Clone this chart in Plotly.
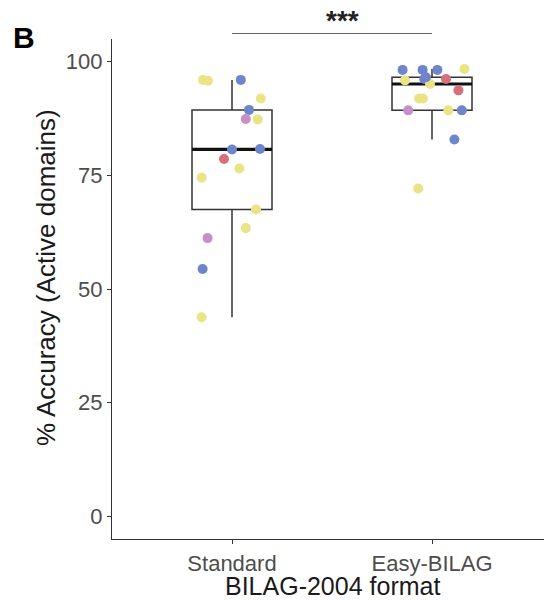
import plotly.graph_objects as go
import numpy as np

categories = ["Standard", "Easy-BILAG"]

standard_values = [96.0, 95.8, 96.0, 91.9, 89.4, 87.4, 87.3, 80.7, 80.8, 78.6,
                   76.5, 74.5, 67.5, 63.4, 61.2, 54.4, 43.8]
standard_groups = ["Y", "Y", "B", "Y", "B", "P", "Y", "B", "B", "R",
                   "Y", "Y", "Y", "Y", "P", "B", "Y"]
standard_jitter = [-0.145, -0.12, 0.044, 0.144, 0.085, 0.069, 0.129, 0.0, 0.14, -0.04,
                   0.037, -0.152, 0.12, 0.069, -0.122, -0.147, -0.152]

easy_values = [98.2, 95.9, 98.2, 96.2, 98.2, 96.2, 98.4, 93.7, 91.9, 91.9,
               89.3, 89.3, 89.3, 82.9, 72.1, 95.1, 96.6]
easy_groups = ["B", "Y", "B", "B", "B", "R", "Y", "R", "Y", "Y",
               "P", "Y", "B", "B", "Y", "Y", "B"]
easy_jitter = [-0.147, -0.135, -0.047, -0.039, 0.027, 0.07, 0.162, 0.132, -0.065, -0.045,
               -0.119, 0.082, 0.149, 0.112, -0.069, -0.01, -0.03]

y_ticks = [0, 25, 50, 75, 100]
significance = "***"

group_colors = {"Y": "#EAE486", "B": "#6E86C9", "P": "#C690C7", "R": "#D7707D"}

series = [
    (standard_values, standard_groups, standard_jitter),
    (easy_values, easy_groups, easy_jitter),
]

BOX_W = 0.4
LINE = "#333333"
FONT = "Liberation Sans, Arial, sans-serif"

fig = go.Figure()

for i, (vals, grps, jit) in enumerate(series):
    fig.add_trace(go.Box(
        y=vals, x0=i, width=BOX_W, boxpoints="outliers",
        marker=dict(opacity=0, size=1),
        line=dict(color=LINE, width=1.5), fillcolor="rgba(255,255,255,0)",
        whiskerwidth=0, quartilemethod="inclusive", showlegend=False,
        hoverinfo="skip",
    ))
    med = float(np.median(vals))
    fig.add_trace(go.Scatter(
        x=[i - BOX_W / 2, i + BOX_W / 2], y=[med, med], mode="lines",
        line=dict(color="#111111", width=3.2), showlegend=False, hoverinfo="skip",
    ))

for i, (vals, grps, jit) in enumerate(series):
    fig.add_trace(go.Scatter(
        x=[i + j for j in jit], y=vals, mode="markers",
        marker=dict(size=10, color=[group_colors[g] for g in grps], line=dict(width=0)),
        showlegend=False, cliponaxis=False,
    ))

top_px, bot_px = 39, 539


def ypaper(px):
    return (bot_px - px) / (bot_px - top_px)


fig.add_shape(type="line", xref="x", yref="paper", x0=0, x1=1,
              y0=ypaper(33.5), y1=ypaper(33.5), line=dict(color="#666666", width=1.2))

annotations = [
    dict(text="<b>" + significance + "</b>", xref="x", yref="paper", x=0.55, y=ypaper(21),
         showarrow=False, font=dict(size=28, color="#222222", family=FONT),
         xanchor="center", yanchor="middle"),
    dict(text="<b>B</b>", xref="paper", yref="paper", x=(11 - 112) / 432, y=ypaper(37),
         showarrow=False, font=dict(size=30, color="#000000", family=FONT),
         xanchor="left", yanchor="middle"),
    dict(text="% Accuracy (Active domains)", xref="paper", yref="paper",
         x=(46 - 112) / 432, y=ypaper(278), textangle=-90, showarrow=False,
         font=dict(size=26, color="#1a1a1a", family=FONT),
         xanchor="center", yanchor="middle"),
    dict(text="BILAG-2004 format", xref="paper", yref="paper",
         x=(332 - 112) / 432, y=ypaper(586), showarrow=False,
         font=dict(size=25, color="#1a1a1a", family=FONT),
         xanchor="center", yanchor="middle"),
]

fig.update_layout(
    width=544, height=600,
    margin=dict(l=112, r=0, t=top_px, b=600 - bot_px),
    plot_bgcolor="white", paper_bgcolor="white",
    annotations=annotations,
    xaxis=dict(range=[-0.6, 1.56], tickvals=[0, 1], ticktext=categories,
               showline=True, linecolor=LINE, linewidth=1.2, ticks="outside",
               ticklen=4, tickcolor=LINE, tickwidth=1.2, showgrid=False, zeroline=False,
               tickfont=dict(size=22, color="#4D4D4D", family=FONT)),
    yaxis=dict(range=[-5, 105], tickvals=y_ticks,
               showline=True, linecolor=LINE, linewidth=1.2, ticks="outside",
               ticklen=4, tickcolor=LINE, tickwidth=1.2, showgrid=False, zeroline=False,
               tickfont=dict(size=22, color="#4D4D4D", family=FONT)),
)

fig.write_html("out.html")
